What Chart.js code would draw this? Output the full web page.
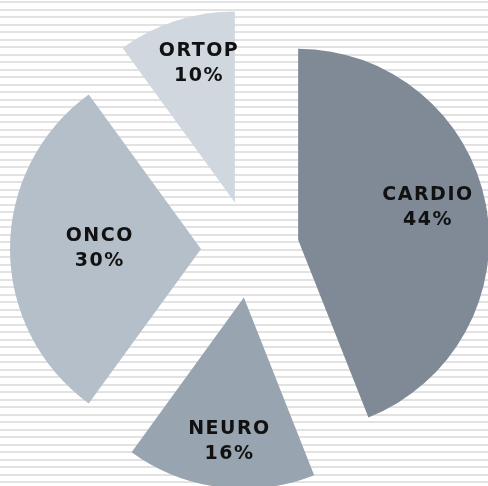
<!DOCTYPE html>
<html>
<head>
<meta charset="utf-8">
<script src="https://cdn.jsdelivr.net/npm/chart.js@4"></script>
<style>
  html, body { margin: 0; padding: 0; }
  body {
    width: 488px; height: 486px; overflow: hidden;
    background: repeating-linear-gradient(to bottom, #ffffff 0px, #ffffff 1.5px, #e2e2e2 1.5px, #e2e2e2 3.5px, #ffffff 3.5px, #ffffff 7.5px);
  }
  #wrap { width: 488px; height: 486px; }
</style>
</head>
<body>
<div id="wrap"><canvas id="pieChart"></canvas></div>
<script>
const categories = ['CARDIO', 'NEURO', 'ONCO', 'ORTOP'];
const shares = [44, 16, 30, 10];
const sliceColors = ['#7f8a96', '#98a4b0', '#b5bfca', '#d0d7df'];

// every slice is pulled out of the centre by this many pixels
const EXPLODE = 49;
// where the label sits: fraction of the radius, and a small turn (degrees) off the mid line
const labelDepth = [0.70, 0.76, 0.53, 0.75];
const labelTurn = [-3, -1.5, 0, 3.5];

const explodePlugin = {
  id: 'explode',
  afterDatasetUpdate(chart, args) {
    args.meta.data.forEach(arc => {
      if (arc._exploded) return;
      const draw = arc.draw;
      arc.draw = function (ctx) {
        const mid = (this.startAngle + this.endAngle) / 2;
        ctx.save();
        ctx.translate(Math.cos(mid) * EXPLODE, Math.sin(mid) * EXPLODE);
        draw.call(this, ctx);
        ctx.restore();
      };
      arc._exploded = true;
    });
  }
};

const labelPlugin = {
  id: 'sliceLabels',
  afterDatasetsDraw(chart) {
    const ctx = chart.ctx;
    const meta = chart.getDatasetMeta(0);
    const total = shares.reduce((a, b) => a + b, 0);
    ctx.save();
    ctx.font = 'bold 19px "DejaVu Sans"';
    ctx.letterSpacing = '1.5px';
    ctx.fillStyle = '#111111';
    ctx.textAlign = 'center';
    ctx.textBaseline = 'middle';
    meta.data.forEach((arc, i) => {
      const mid = (arc.startAngle + arc.endAngle) / 2;
      const apexX = arc.x + Math.cos(mid) * EXPLODE;
      const apexY = arc.y + Math.sin(mid) * EXPLODE;
      const a = mid + labelTurn[i] * Math.PI / 180;
      const d = arc.outerRadius * labelDepth[i];
      const x = apexX + Math.cos(a) * d;
      const y = apexY + Math.sin(a) * d;
      ctx.fillText(categories[i], x, y - 12.5);
      ctx.fillText(Math.round(shares[i] / total * 100) + '%', x, y + 12.5);
    });
    ctx.restore();
  }
};

new Chart(document.getElementById('pieChart'), {
  type: 'pie',
  data: {
    labels: categories,
    datasets: [{
      data: shares,
      backgroundColor: sliceColors,
      borderWidth: 0
    }]
  },
  options: {
    responsive: true,
    maintainAspectRatio: false,
    animation: false,
    radius: 191,
    layout: { padding: { left: 12, top: 12 } },
    plugins: {
      legend: { display: false },
      tooltip: { enabled: false }
    }
  },
  plugins: [explodePlugin, labelPlugin]
});
</script>
</body>
</html>
